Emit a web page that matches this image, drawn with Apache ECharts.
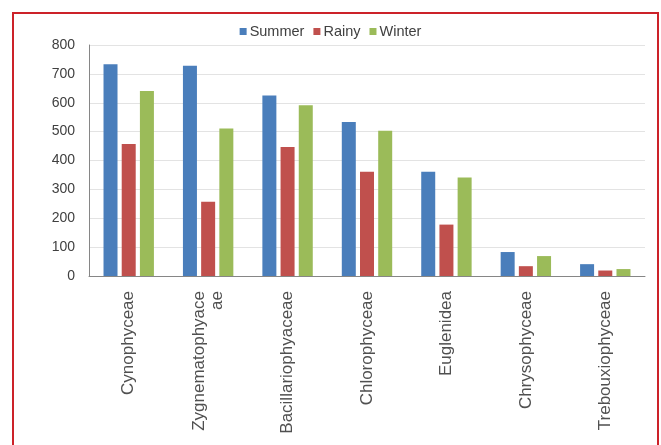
<!DOCTYPE html>
<html>
<head>
<meta charset="utf-8">
<script src="https://cdn.jsdelivr.net/npm/echarts@6/dist/echarts.min.js"></script>
<style>
  html, body { margin: 0; padding: 0; background: #fff; }
  #main { width: 661px; height: 445px; }
</style>
</head>
<body>
<div id="main"></div>
<script>
// algal classes on the x axis
var categories = ['Cynophyceae', 'Zygnematophyace\nae', 'Bacillariophyaceae', 'Chlorophyceae',
  'Euglenidea', 'Chrysophyceae', 'Trebouxiophyceae'];

// counts
var summer = [733, 728, 625, 533, 361, 83, 41];
var rainy = [457, 257, 447, 361, 178, 34, 19];
var winter = [641, 511, 591, 503, 341, 69, 24];

var yTicks = [0, 100, 200, 300, 400, 500, 600, 700, 800];

var chart = echarts.init(document.getElementById('main'));

var option = {
  backgroundColor: '#ffffff',
  animation: false,
  textStyle: { fontFamily: 'Liberation Sans, Arial, sans-serif' },
  // red frame around the whole chart
  graphic: [{
    type: 'rect',
    shape: { x: 13, y: 13, width: 645, height: 450 },
    style: { fill: 'none', stroke: '#cc2229', lineWidth: 2 },
    silent: true
  }],
  legend: {
    top: 19,
    left: 'center',
    itemWidth: 7,
    itemHeight: 7,
    itemGap: 9,
    icon: 'rect',
    textStyle: { fontSize: 14.5, color: '#404040', padding: [0, 0, 0, -2] },
    data: ['Summer', 'Rainy', 'Winter']
  },
  grid: { left: 89, right: 16, top: 45, bottom: 169, containLabel: false },
  xAxis: {
    type: 'category',
    data: categories,
    axisLine: { lineStyle: { color: '#868686', width: 1 } },
    axisTick: { show: false },
    axisLabel: {
      rotate: 90,
      fontSize: 17,
      color: '#505050',
      margin: 15,
      lineHeight: 18,
      interval: 0
    }
  },
  yAxis: {
    type: 'value',
    min: yTicks[0],
    max: yTicks[yTicks.length - 1],
    interval: 100,
    axisLine: { show: true, lineStyle: { color: '#868686', width: 1 } },
    axisTick: { show: false },
    splitLine: { lineStyle: { color: '#e3e3e3', width: 1 } },
    axisLabel: { fontSize: 14, color: '#404040', margin: 14 }
  },
  series: [
    { name: 'Summer', type: 'bar', data: summer, barWidth: 14, barGap: '30%',
      itemStyle: { color: '#4a7ebb' } },
    { name: 'Rainy', type: 'bar', data: rainy, barWidth: 14, barGap: '30%',
      itemStyle: { color: '#c0504d' } },
    { name: 'Winter', type: 'bar', data: winter, barWidth: 14, barGap: '30%',
      itemStyle: { color: '#9bbb59' } }
  ]
};

chart.setOption(option);
</script>
</body>
</html>
